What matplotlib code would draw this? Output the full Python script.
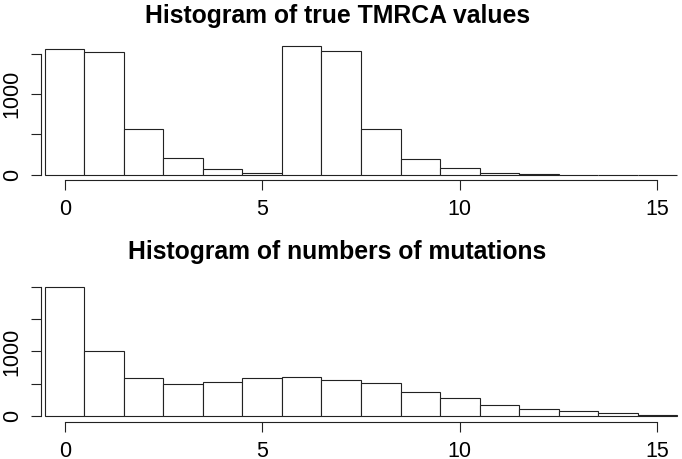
import numpy as np
import matplotlib
matplotlib.use("Agg")
from matplotlib import pyplot as plt

# bins are centred on integers (width 1)
tmrca_bins = np.arange(16)
tmrca_counts = [1560, 1522, 564, 206, 78, 28, 1593, 1527, 564, 194, 86, 28, 12, 3, 1, 0]

mut_bins = np.arange(16)
mut_counts = [2005, 1008, 587, 498, 520, 582, 603, 556, 504, 374, 280, 171, 109, 70, 40, 15]

xticks = [0, 5, 10, 15]
top_yticks = [0, 500, 1000, 1500]
top_ylabels = ['0', '', '1000', '']
bot_yticks = [0, 500, 1000, 1500, 2000]
bot_ylabels = ['0', '', '1000', '', '']

plt.rcParams['font.family'] = ['Liberation Sans', 'DejaVu Sans']

W, H = 682, 459
fig = plt.figure(figsize=(W / 100, H / 100), dpi=100)


def px_axes(x0, x1, y0, y1):
    # pixel box (from top-left) -> figure fraction
    return fig.add_axes([x0 / W, 1 - y1 / H, (x1 - x0) / W, (y1 - y0) / H])


def style(ax, yt, yl, ylim):
    ax.set_xlim(-0.6, 15.6)
    ax.set_ylim(*ylim)
    for s in ['top', 'right']:
        ax.spines[s].set_visible(False)
    ax.spines['left'].set_bounds(yt[0], yt[-1])
    ax.spines['bottom'].set_bounds(xticks[0], xticks[-1])
    for s in ['left', 'bottom']:
        ax.spines[s].set_linewidth(0.8)
        ax.spines[s].set_color('#222222')
    ax.set_xticks(xticks)
    ax.set_xticklabels([str(t) for t in xticks])
    ax.set_yticks(yt)
    ax.set_yticklabels(yl, rotation=90, va='center')
    ax.tick_params(length=7.2, width=0.8, color='#222222', labelsize=15.5)
    ax.tick_params(axis='x', pad=6.5)
    ax.tick_params(axis='y', pad=6)
    ax.patch.set_alpha(0)


ax1 = px_axes(41, 681, 40.8, 180)
ax1.bar(tmrca_bins, tmrca_counts, width=1, facecolor='white',
        edgecolor='#222222', linewidth=0.8)
style(ax1, top_yticks, top_ylabels, (-62, 1657))

ax2 = px_axes(41, 681, 281.8, 421.7)
ax2.bar(mut_bins, mut_counts, width=1, facecolor='white',
        edgecolor='#222222', linewidth=0.8)
style(ax2, bot_yticks, bot_ylabels, (-93, 2085))

fig.text(338 / W, 1 - 23 / H, 'Histogram of true TMRCA values',
         ha='center', va='baseline', fontsize=17.8, fontweight='bold')
fig.text(337 / W, 1 - 259 / H, 'Histogram of numbers of mutations',
         ha='center', va='baseline', fontsize=17.8, fontweight='bold')

fig.savefig('out.png', dpi=100)
